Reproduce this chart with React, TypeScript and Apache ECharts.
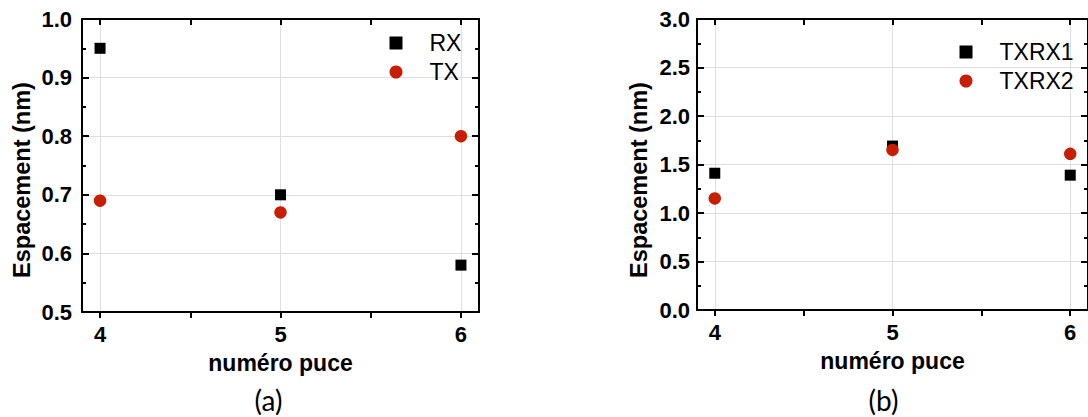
import React, { useEffect, useRef } from "react";
import * as echarts from "echarts";

const chips = [4, 5, 6];
const rx = [0.95, 0.7, 0.58];
const tx = [0.69, 0.67, 0.8];
const txrx1 = [1.41, 1.69, 1.39];
const txrx2 = [1.15, 1.65, 1.61];
const xTicks = [4, 4.5, 5, 5.5, 6];
const xLabels = [4, 5, 6];
const xTitle = "numéro puce";
const yTitle = "Espacement (nm)";
const panelLabels = ["(a)", "(b)"];

const FONT = "'Liberation Sans', Arial, sans-serif";
const RED = "#c81e00";
const GRIDC = "#dedede";

const pts = (ys: number[]) => chips.map((c, i) => [c, ys[i]]);

function xAxes(gridIndex: number) {
  const base = {
    gridIndex,
    type: "value",
    min: 3.9,
    max: 6.1,
  };
  return [
    {
      ...base,
      position: "bottom",
      axisLine: { show: true, onZero: false, lineStyle: { color: "#000", width: 2 } },
      axisTick: { show: true, inside: false, length: 6, customValues: xTicks, lineStyle: { color: "#000", width: 2 } },
      axisLabel: {
        show: true,
        customValues: xLabels,
        margin: 11,
        formatter: (v: number) => (Number.isInteger(v) ? String(v) : ""),
        color: "#000",
        fontFamily: FONT,
        fontWeight: "bold",
        fontSize: 22,
      },
      splitLine: { show: false },
      name: xTitle,
      nameLocation: "middle",
      nameGap: 39,
      nameTextStyle: { color: "#000", fontFamily: FONT, fontWeight: "bold", fontSize: 23 },
    },
    {
      ...base,
      position: "top",
      axisLine: { show: true, onZero: false, lineStyle: { color: "#000", width: 2 } },
      axisTick: { show: true, inside: true, length: 6, customValues: xTicks, lineStyle: { color: "#000", width: 2 } },
      axisLabel: { show: false },
      splitLine: { show: false },
    },
    {
      ...base,
      position: "bottom",
      axisLine: { show: false },
      axisTick: { show: false, customValues: xLabels },
      axisLabel: { show: false },
      splitLine: { show: true, lineStyle: { color: GRIDC, width: 1 } },
    },
  ];
}

function yAxes(gridIndex: number, min: number, max: number, interval: number, margin: number) {
  const base = { gridIndex, type: "value", min, max, interval };
  return [
    {
      ...base,
      position: "left",
      axisLine: { show: true, onZero: false, lineStyle: { color: "#000", width: 2 } },
      axisTick: { show: true, inside: true, length: 7, lineStyle: { color: "#000", width: 2 } },
      minorTick: { show: true, splitNumber: 2, length: 4, lineStyle: { color: "#000", width: 2 } },
      axisLabel: {
        show: true,
        margin,
        formatter: (v: number) => v.toFixed(1),
        color: "#000",
        fontFamily: FONT,
        fontWeight: "bold",
        fontSize: 22,
      },
      splitLine: { show: true, lineStyle: { color: GRIDC, width: 1 } },
    },
    {
      ...base,
      position: "right",
      axisLine: { show: true, onZero: false, lineStyle: { color: "#000", width: 2 } },
      axisTick: { show: true, inside: true, length: 7, lineStyle: { color: "#000", width: 2 } },
      minorTick: { show: true, splitNumber: 2, length: 4, lineStyle: { color: "#000", width: 2 } },
      axisLabel: { show: false },
      splitLine: { show: false },
    },
  ];
}

function legend(names: string[], left: number, top: number) {
  return {
    orient: "vertical",
    left,
    top,
    padding: 0,
    itemGap: 6,
    itemWidth: 13,
    itemHeight: 13,
    data: [
      { name: names[0], icon: "rect" },
      { name: names[1], icon: "circle" },
    ],
    textStyle: { color: "#000", fontFamily: FONT, fontSize: 23, padding: [0, 0, 0, 22] },
    selectedMode: false,
  };
}

function scatter(name: string, data: number[][], xi: number, yi: number, square: boolean) {
  return {
    type: "scatter",
    name,
    xAxisIndex: xi,
    yAxisIndex: yi,
    symbol: square ? "rect" : "circle",
    symbolSize: square ? 11 : 12.5,
    itemStyle: { color: square ? "#000" : RED, opacity: 1 },
    data,
    z: square ? 3 : 4,
  };
}

export default function App() {
  const ref = useRef<HTMLDivElement>(null);
  useEffect(() => {
    if (!ref.current) return;
    const chart = echarts.init(ref.current, undefined, { renderer: "svg" });
    const option: any = {
      animation: false,
      backgroundColor: "#fff",
      grid: [
        { left: 82, top: 19, width: 397, height: 293, containLabel: false },
        { left: 697, top: 19, width: 394, height: 291, containLabel: false },
      ],
      xAxis: [...xAxes(0), ...xAxes(1)],
      yAxis: [...yAxes(0, 0.5, 1.0, 0.1, 10), ...yAxes(1, 0, 3, 0.5, 7)],
      legend: [legend(["RX", "TX"], 389.5, 31.5), legend(["TXRX1", "TXRX2"], 959.5, 40.5)],
      series: [
        scatter("RX", pts(rx), 0, 0, true),
        scatter("TX", pts(tx), 0, 0, false),
        scatter("TXRX1", pts(txrx1), 3, 2, true),
        scatter("TXRX2", pts(txrx2), 3, 2, false),
      ],
      graphic: [
        {
          type: "text",
          x: 22,
          y: 180,
          rotation: Math.PI / 2,
          style: { text: yTitle, align: "center", verticalAlign: "middle", fill: "#000", font: `bold 23.5px ${FONT}` },
        },
        {
          type: "text",
          x: 639,
          y: 180,
          rotation: Math.PI / 2,
          style: { text: yTitle, align: "center", verticalAlign: "middle", fill: "#000", font: `bold 23.5px ${FONT}` },
        },
        {
          type: "text",
          x: 268.5,
          y: 400,
          style: { text: panelLabels[0], align: "center", verticalAlign: "middle", fill: "#000", font: `28px Lato, 'Open Sans', sans-serif` },
        },
        {
          type: "text",
          x: 883.5,
          y: 400,
          style: { text: panelLabels[1], align: "center", verticalAlign: "middle", fill: "#000", font: `28px Lato, 'Open Sans', sans-serif` },
        },
      ],
    };
    chart.setOption(option);
    return () => chart.dispose();
  }, []);
  return (
    <div
      ref={ref}
      style={{ position: "fixed", left: 0, top: 0, width: 1088, height: 417, background: "#fff" }}
    />
  );
}
